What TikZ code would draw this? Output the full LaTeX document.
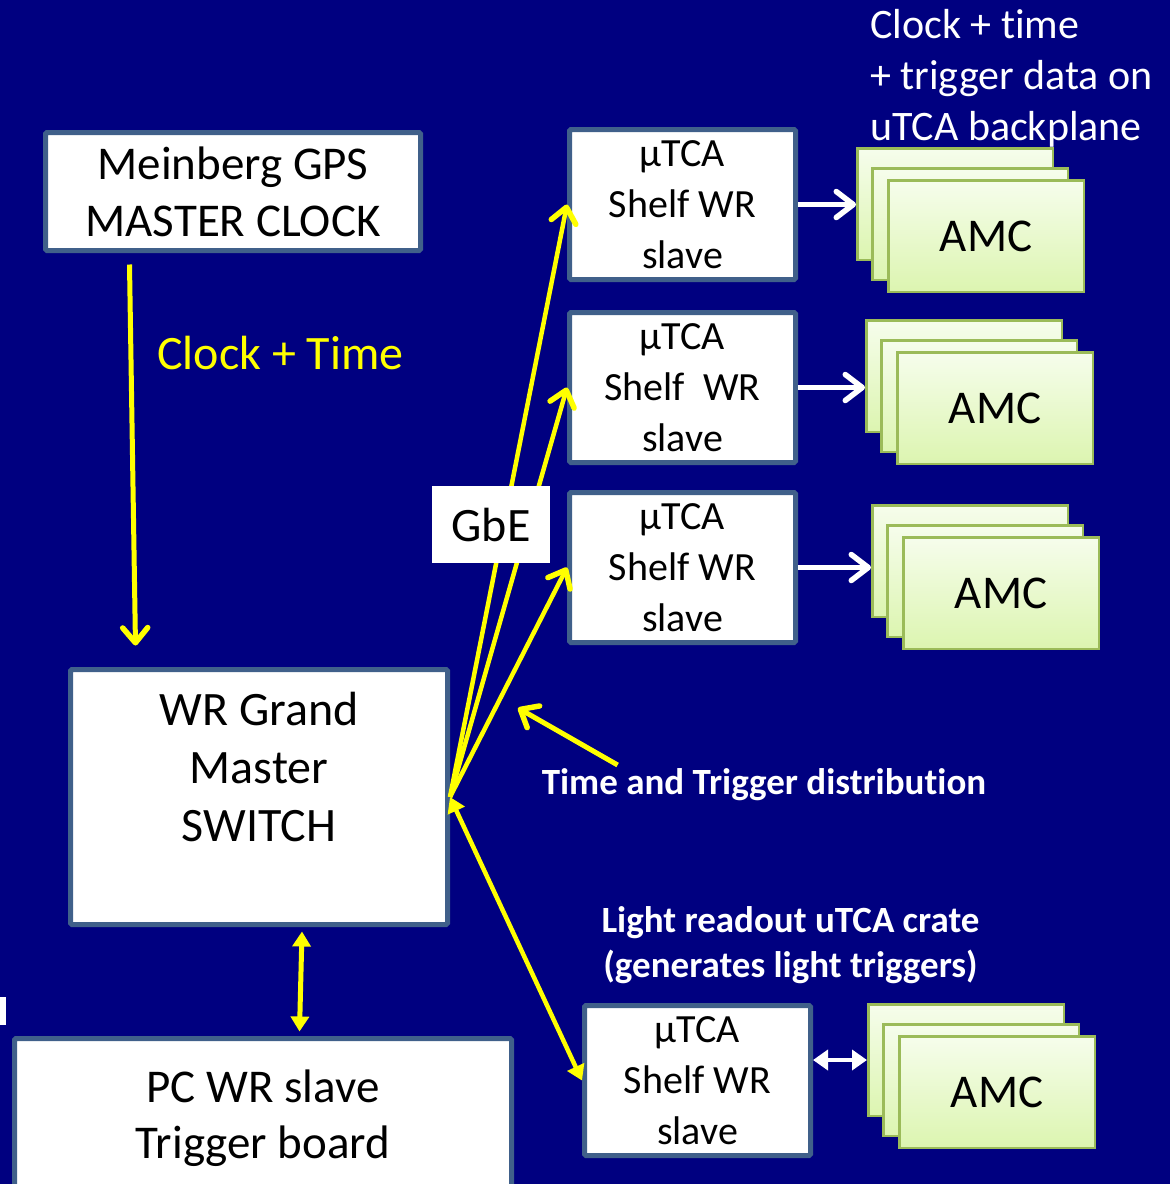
\documentclass[tikz,border=0pt]{standalone}
\usepackage{fontspec}
\setmainfont{Carlito}[Ligatures=NoCommon]
\usetikzlibrary{arrows.meta,calc}
\definecolor{navy}{RGB}{0,0,128}
\definecolor{boxedge}{RGB}{64,96,138}
\definecolor{amcedge}{RGB}{155,187,89}
\definecolor{amctop}{RGB}{246,253,236}
\definecolor{amcbot}{RGB}{220,245,176}
\definecolor{yel}{RGB}{255,255,0}
\newcommand\fs[2]{\fontsize{#1}{#2}\selectfont}
\newcommand\amcstack[3]{%
  \node[card] (#1a) at (#2,#3) {};
  \node[card] (#1b) at ($(#1a)+(15,20)$) {};
  \node[card, font=\fs{47}{57}] (#1) at ($(#1a)+(31,32)$) {AMC};
}
\begin{document}
\begin{tikzpicture}[x=1pt,y=-1pt,
  box/.style={draw=boxedge, line width=5pt, fill=white, rounded corners=1.5pt, inner sep=0pt, align=center, text=black},
  card/.style={draw=amcedge, line width=2.5pt, top color=amctop, bottom color=amcbot, minimum width=195.5pt, minimum height=111.5pt, inner sep=0pt},
  ylink/.style={draw=yel, line width=5pt},
  wlink/.style={draw=white, line width=5pt},
  chevY/.style={-{Straight Barb[length=15pt,width=25pt,round,line width=5.5pt]}},
  chevW/.style={-{Straight Barb[length=17pt,width=26pt,round,line width=5.5pt]}},
  tri/.style={{Triangle[length=15pt,width=18pt]}-{Triangle[length=15pt,width=18pt]}},
  lbl/.style={inner sep=0pt, align=center}
]
\fill[navy] (0,0) rectangle (1170,1184);
\useasboundingbox (0,0) rectangle (1170,1184);
\clip (0,0) rectangle (1170,1184);

% AMC stacks
\amcstack{a1}{955}{204}
\amcstack{a2}{964}{376}
\amcstack{a3}{970}{561}
\amcstack{a4}{966}{1060}

% boxes
\node[box, minimum width=375pt, minimum height=118pt, font=\fs{47}{57}] (gps) at (233,191.5) {Meinberg GPS\\MASTER CLOCK};
\node[box, minimum width=377pt, minimum height=255pt] (wr) at (259,797) {};
\node[lbl, font=\fs{48}{58}] (wrtext) at (259,767) {WR Grand\\Master\\SWITCH};
\node[box, minimum width=497pt, minimum height=199pt] (pc) at (263,1138) {};
\node[lbl, font=\fs{47}{56}] (pctext) at (263,1118.5) {PC WR slave\\Trigger board};

\node[box, minimum width=226pt, minimum height=150pt, font=\fs{40}{51}] (b1) at (682.5,204.5) {µTCA\\Shelf WR\\slave};
\node[box, minimum width=226pt, minimum height=150pt, font=\fs{40}{51}] (b2) at (682.5,387.5) {µTCA\\Shelf\ \ WR\\slave};
\node[box, minimum width=226pt, minimum height=150pt, font=\fs{40}{51}] (b3) at (682.5,567.5) {µTCA\\Shelf WR\\slave};
\node[box, minimum width=226pt, minimum height=150pt, font=\fs{40}{51}] (b4) at (697.5,1080.5) {µTCA\\Shelf WR\\slave};

% white arrows to AMC
\draw[wlink, chevW] (b1.east) -- (b1.east -| a1a.west);
\draw[wlink, chevW] (b2.east) -- (b2.east -| a2a.west);
\draw[wlink, chevW] (b3.east) -- (b3.east -| a3a.west);
\draw[wlink, line width=4pt, {Triangle[length=15pt,width=20pt]}-{Triangle[length=15pt,width=20pt]}] (b4.east |- a4a.west) -- (a4a.west);

% yellow arrows
\draw[ylink, chevY] ($(gps.south west)+(86.5,11.5)$) -- ($(wr.north west)+(67.5,-21.5)$);
\foreach \b in {b1,b2,b3} {\draw[ylink, line width=4.5pt, chevY] (wr.east) -- (\b.west);}
\draw[ylink, line width=4.5pt, tri] (wr.east) -- (b4.west);
\draw[ylink, tri] ($(wr.south)+(43,4.5)$) -- ($(pc.north west)+(287.5,-4.5)$);

% texts
\node[lbl, font=\fs{37}{45}\bfseries, text=white, anchor=base] (ttd) at (764,794) {Time and Trigger distribution};
\coordinate (ptrtip) at (518,708);
\draw[ylink, chevY] ($(ttd.base west)+(76,-29)$) -- (ptrtip);

\node[fill=white, minimum width=118pt, minimum height=77pt, inner sep=0pt, font=\fs{48}{58}] (gbe) at (491,524.5) {GbE};

\node[lbl, text=yel, font=\fs{48}{58}, anchor=base] (ct) at (280.5,369) {Clock + Time};
\node[lbl, text=white, font=\fs{42}{51}, align=left, anchor=west] (bp) at (870,78) {Clock + time\\+ trigger data on\\uTCA backplane};
\node[lbl, text=white, font=\fs{37}{45}\bfseries] (lr) at (790.5,945) {Light readout uTCA crate\\(generates light triggers)};

\fill[white] (0,997) rectangle (6,1025);
\end{tikzpicture}
\end{document}
